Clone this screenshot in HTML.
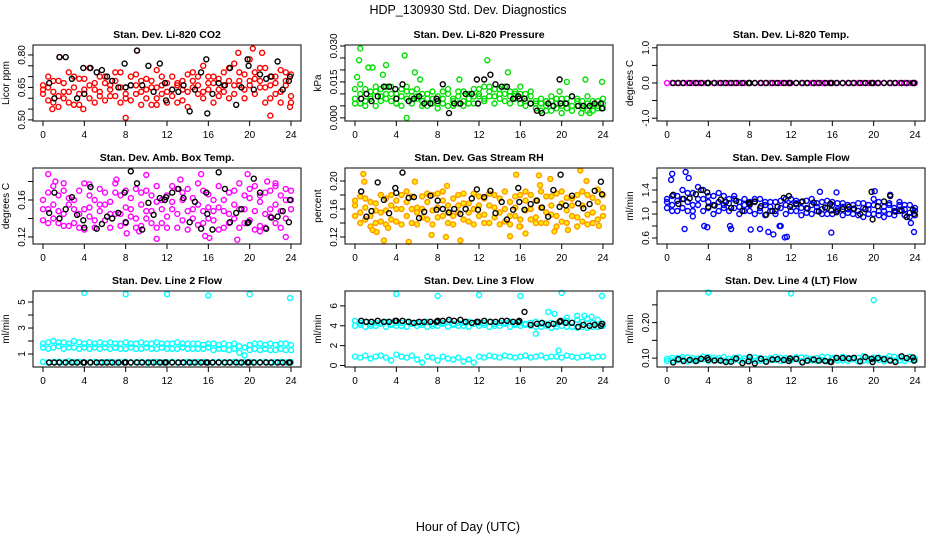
<!DOCTYPE html>
<html><head><meta charset="utf-8"><title>HDP_130930 Std. Dev. Diagnostics</title>
<style>
html,body{margin:0;padding:0;background:#fff;}
svg{display:block;font-family:"Liberation Sans",sans-serif;}
</style></head>
<body>
<svg id="chart" width="936" height="540" viewBox="0 0 936 540">
<rect x="0" y="0" width="936" height="540" fill="#fff"/>
<text x="468" y="14" text-anchor="middle" font-size="12.5">HDP_130930  Std. Dev. Diagnostics</text>
<text x="468" y="531" text-anchor="middle" font-size="12.5">Hour of Day (UTC)</text>
</svg>
<script>
const hours=[0,0.5,1,1.5,2,2.5,3,3.5,4,4.5,5,5.5,6,6.5,7,7.5,8,8.5,9,9.5,10,10.5,11,11.5,12,12.5,13,13.5,14,14.5,15,15.5,16,16.5,17,17.5,18,18.5,19,19.5,20,20.5,21,21.5,22,22.5,23,23.5,24];
const blackHours=[0.6,1.1,1.6,2.2,2.8,3.3,3.9,4.0,4.6,5.2,5.7,6.2,6.7,7.3,7.9,8.0,8.5,9.1,9.6,10.2,10.7,11.3,11.8,11.9,12.5,13.1,13.6,14.2,14.7,15.3,15.8,15.9,16.4,17.0,17.6,18.1,18.7,19.2,19.8,19.9,20.4,21.0,21.6,22.1,22.7,23.2,23.8,23.9];
const xTicks=[0,4,8,12,16,20,24];

// Panel 1: CO2
const co2A=[0.66,0.70,0.63,0.68,0.60,0.72,0.65,0.69,0.62,0.74,0.67,0.61,0.70,0.64,0.68,0.72,0.60,0.66,0.71,0.63,0.69,0.65,0.73,0.62,0.58,0.70,0.66,0.64,0.71,0.68,0.62,0.75,0.67,0.70,0.64,0.72,0.68,0.76,0.66,0.71,0.78,0.69,0.65,0.74,0.70,0.67,0.73,0.66,0.71];
const co2B=[0.62,0.65,0.58,0.61,0.67,0.63,0.57,0.62,0.69,0.60,0.64,0.70,0.59,0.66,0.61,0.58,0.65,0.70,0.62,0.57,0.64,0.68,0.60,0.66,0.63,0.61,0.67,0.59,0.63,0.65,0.70,0.60,0.64,0.58,0.69,0.63,0.60,0.66,0.72,0.64,0.68,0.62,0.74,0.65,0.60,0.70,0.63,0.68,0.61];
const co2C=[0.64,0.59,0.68,0.56,0.63,0.58,0.70,0.57,0.64,0.66,0.58,0.63,0.67,0.61,0.72,0.65,0.62,0.59,0.66,0.68,0.60,0.57,0.65,0.70,0.67,0.64,0.58,0.68,0.56,0.72,0.66,0.63,0.70,0.67,0.61,0.66,0.74,0.62,0.68,0.60,0.66,0.72,0.68,0.58,0.66,0.62,0.58,0.72,0.58];
const co2OutX=[1.6,9.1,8.0,20.3,22.0,11.0,18.9,3.9,0.9,21.2,23.9];
const co2OutY=[0.79,0.82,0.51,0.83,0.52,0.57,0.81,0.55,0.55,0.81,0.56];
const co2Black=[0.67,0.60,0.79,0.79,0.69,0.60,0.74,0.62,0.74,0.72,0.73,0.70,0.68,0.65,0.76,0.65,0.66,0.82,0.66,0.75,0.63,0.76,0.67,0.59,0.64,0.63,0.66,0.54,0.64,0.72,0.78,0.53,0.62,0.67,0.66,0.74,0.57,0.65,0.78,0.75,0.64,0.71,0.69,0.70,0.77,0.64,0.68,0.70];
const co2Ticks=[0.50,0.55,0.60,0.65,0.70,0.75,0.80];
const co2Labels=["0.50","0.65","0.80"];

// Panel 2: Pressure
const presA=[0.006,0.010,0.012,0.008,0.011,0.009,0.013,0.007,0.010,0.012,0.008,0.011,0.009,0.007,0.010,0.006,0.009,0.008,0.010,0.007,0.009,0.011,0.008,0.012,0.010,0.013,0.011,0.009,0.012,0.010,0.011,0.008,0.010,0.007,0.009,0.004,0.006,0.005,0.007,0.004,0.008,0.006,0.005,0.007,0.004,0.006,0.005,0.007,0.004];
const presB=[0.008,0.006,0.007,0.011,0.005,0.012,0.008,0.010,0.006,0.009,0.011,0.006,0.008,0.010,0.005,0.008,0.006,0.011,0.005,0.008,0.006,0.007,0.010,0.006,0.009,0.008,0.009,0.012,0.008,0.007,0.009,0.011,0.006,0.010,0.006,0.007,0.003,0.007,0.003,0.006,0.005,0.008,0.003,0.005,0.007,0.003,0.007,0.004,0.006];
const presC=[0.012,0.014,0.005,0.009,0.013,0.007,0.010,0.013,0.008,0.005,0.013,0.009,0.012,0.005,0.008,0.011,0.004,0.006,0.012,0.005,0.011,0.005,0.006,0.009,0.012,0.007,0.013,0.006,0.010,0.013,0.006,0.010,0.013,0.005,0.011,0.006,0.008,0.003,0.009,0.008,0.002,0.004,0.009,0.008,0.005,0.009,0.003,0.005,0.008];
const presOutX=[0.5,0.4,1.3,1.7,3.0,2.7,4.8,5.0,5.8,10.1,12.8,14.8,19.8,20.5,22.3,23.9,0.2,6.3,21.9,22.7];
const presOutY=[0.029,0.024,0.021,0.021,0.022,0.018,0.026,0.000,0.019,0.016,0.024,0.019,0.011,0.015,0.016,0.015,0.017,0.016,0.002,0.002];
const presBlack=[0.008,0.010,0.007,0.009,0.013,0.013,0.012,0.008,0.014,0.007,0.008,0.009,0.006,0.006,0.008,0.007,0.014,0.002,0.006,0.006,0.010,0.010,0.016,0.006,0.016,0.018,0.014,0.013,0.013,0.008,0.009,0.008,0.008,0.006,0.003,0.002,0.006,0.005,0.016,0.006,0.006,0.009,0.005,0.005,0.005,0.006,0.006,0.004];
const presTicks=[0,0.005,0.010,0.015,0.020,0.025,0.030];
const presLabels=["0.000","0.015","0.030"];

// Panel 3: Li-820 Temp
const tempA=[0,0,0,0,0,0,0,0,0,0,0,0,0,0,0,0,0,0,0,0,0,0,0,0,0,0,0,0,0,0,0,0,0,0,0,0,0,0,0,0,0,0,0,0,0,0,0,0,0];
const tempBlack=[0,0,0,0,0,0,0,0,0,0,0,0,0,0,0,0,0,0,0,0,0,0,0,0,0,0,0,0,0,0,0,0,0,0,0,0,0,0,0,0,0,0,0,0,0,0,0,0];
const tempTicks=[-1,-0.5,0,0.5,1];
const tempLabels=["-1.0","0.0","1.0"];

// Panel 4: Amb box temp
const ambA=[0.160,0.150,0.140,0.165,0.145,0.155,0.135,0.170,0.150,0.142,0.160,0.148,0.138,0.158,0.168,0.145,0.152,0.162,0.140,0.155,0.170,0.148,0.158,0.135,0.165,0.150,0.145,0.160,0.172,0.140,0.155,0.148,0.166,0.138,0.152,0.160,0.145,0.170,0.150,0.135,0.162,0.148,0.158,0.168,0.142,0.155,0.165,0.140,0.150];
const ambB=[0.138,0.168,0.155,0.135,0.170,0.132,0.160,0.145,0.128,0.165,0.138,0.172,0.155,0.130,0.145,0.165,0.135,0.142,0.172,0.132,0.140,0.165,0.130,0.160,0.142,0.175,0.130,0.168,0.148,0.162,0.133,0.170,0.140,0.160,0.175,0.130,0.168,0.140,0.130,0.165,0.138,0.175,0.132,0.145,0.170,0.135,0.148,0.172,0.160];
const ambC=[0.150,0.135,0.175,0.148,0.132,0.162,0.150,0.130,0.178,0.152,0.130,0.155,0.168,0.145,0.178,0.132,0.170,0.150,0.130,0.168,0.148,0.135,0.175,0.150,0.130,0.158,0.172,0.138,0.128,0.150,0.178,0.135,0.152,0.148,0.128,0.148,0.135,0.155,0.178,0.150,0.172,0.128,0.165,0.130,0.150,0.178,0.130,0.160,0.170];
const ambOutX=[0.5,1.2,4.5,7.1,8.1,9.3,10.0,11.0,13.3,15.3,16.1,18.8,19.8,21.7,23.5,2.0,15.7,21.0,22.5];
const ambOutY=[0.188,0.180,0.177,0.182,0.124,0.126,0.187,0.118,0.182,0.188,0.119,0.117,0.188,0.180,0.120,0.178,0.121,0.126,0.175];
const ambBlack=[0.146,0.168,0.140,0.150,0.163,0.144,0.138,0.130,0.174,0.129,0.134,0.142,0.140,0.146,0.168,0.136,0.191,0.178,0.128,0.157,0.144,0.162,0.160,0.163,0.168,0.172,0.162,0.136,0.158,0.129,0.168,0.145,0.128,0.190,0.172,0.136,0.146,0.150,0.135,0.136,0.183,0.168,0.129,0.141,0.142,0.148,0.136,0.160];
const ambTicks=[0.12,0.14,0.16,0.18];
const ambLabels=["0.12","0.16"];

// Panel 5: Gas stream RH
const rhA=[0.165,0.155,0.175,0.150,0.168,0.180,0.158,0.145,0.172,0.160,0.150,0.178,0.162,0.148,0.170,0.158,0.182,0.150,0.165,0.175,0.155,0.145,0.168,0.160,0.178,0.152,0.165,0.148,0.175,0.160,0.170,0.150,0.180,0.158,0.145,0.172,0.162,0.155,0.178,0.150,0.168,0.158,0.175,0.148,0.165,0.180,0.155,0.170,0.162];
const rhB=[0.150,0.178,0.145,0.170,0.140,0.155,0.175,0.165,0.142,0.180,0.170,0.140,0.155,0.178,0.145,0.180,0.148,0.172,0.140,0.150,0.180,0.168,0.142,0.182,0.150,0.175,0.140,0.180,0.155,0.142,0.150,0.178,0.145,0.172,0.180,0.148,0.140,0.178,0.152,0.182,0.142,0.176,0.150,0.180,0.142,0.152,0.176,0.145,0.180];
const rhC=[0.172,0.140,0.162,0.135,0.158,0.142,0.138,0.180,0.160,0.138,0.185,0.160,0.138,0.160,0.182,0.138,0.162,0.185,0.155,0.138,0.165,0.182,0.155,0.138,0.165,0.140,0.182,0.162,0.138,0.185,0.138,0.162,0.135,0.185,0.160,0.140,0.185,0.140,0.165,0.135,0.185,0.140,0.165,0.135,0.185,0.138,0.140,0.188,0.150];
const rhOutX=[0.8,0.9,1.7,2.1,2.8,5.8,5.2,7.4,8.8,8.9,10.2,15.0,15.6,15.9,16.5,17.8,17.9,18.9,19.3,20.6,21.8,22.4,23.6,3.2];
const rhOutY=[0.210,0.199,0.130,0.127,0.115,0.199,0.113,0.123,0.120,0.193,0.115,0.121,0.209,0.135,0.125,0.208,0.194,0.203,0.128,0.130,0.215,0.200,0.136,0.133];
const rhBlack=[0.185,0.149,0.157,0.198,0.173,0.154,0.190,0.183,0.212,0.176,0.177,0.147,0.156,0.179,0.159,0.172,0.160,0.155,0.160,0.153,0.160,0.175,0.188,0.159,0.177,0.186,0.154,0.170,0.145,0.159,0.190,0.170,0.159,0.167,0.172,0.162,0.149,0.187,0.163,0.209,0.165,0.179,0.168,0.161,0.167,0.186,0.199,0.181];
const rhTicks=[0.12,0.14,0.16,0.18,0.20];
const rhLabels=["0.12","0.16","0.20"];

// Panel 6: Sample flow
const sfA=[1.25,1.15,1.30,1.10,1.20,1.35,1.15,1.25,1.10,1.30,1.20,1.15,1.25,1.10,1.20,1.15,1.05,1.20,1.10,1.15,1.05,1.20,1.10,1.25,1.15,1.05,1.20,1.10,1.15,1.05,1.20,1.10,1.15,1.05,1.12,1.02,1.15,1.05,1.10,1.00,1.15,1.05,1.12,1.00,1.10,1.05,1.15,1.02,1.10];
const sfB=[1.10,1.30,1.05,1.40,1.05,1.15,1.45,1.05,1.30,1.15,1.05,1.30,1.05,1.25,1.00,1.25,1.20,1.00,1.25,0.98,1.20,1.00,1.22,1.00,1.25,1.18,0.98,1.22,1.00,1.18,1.00,1.22,1.00,1.18,0.98,1.15,1.00,1.18,0.95,1.15,1.00,1.20,0.95,1.15,0.98,1.15,0.98,1.15,1.05];
const sfC=[1.20,1.05,1.22,1.25,1.35,1.05,1.25,1.40,1.20,1.00,1.35,1.10,1.18,1.30,1.12,1.05,1.15,1.25,1.05,1.20,1.12,1.05,0.80,1.15,1.05,1.22,1.10,1.02,1.25,1.12,1.08,1.00,1.20,1.08,1.18,1.08,1.08,0.98,1.18,1.08,1.25,0.98,1.05,1.18,1.05,1.20,1.08,0.95,0.98];
const sfOutX=[0.5,0.4,1.8,2.1,1.7,3.6,3.9,6.1,6.2,8.1,9.0,9.8,10.3,10.9,11.6,11.4,14.8,15.9,16.4,20.1,21.6,23.6,23.9,2.5];
const sfOutY=[1.67,1.57,1.70,1.60,0.75,0.80,0.78,0.80,0.75,0.74,0.75,0.70,0.66,0.80,0.62,0.61,1.37,0.69,1.36,1.38,1.32,0.85,0.70,0.96];
const sfBlack=[1.32,1.17,1.25,1.26,1.33,1.40,1.36,1.12,1.14,1.24,1.20,1.10,1.22,1.05,1.19,1.17,1.21,1.13,0.99,1.05,1.12,1.27,1.30,1.12,1.16,1.21,1.09,1.19,1.04,1.11,1.17,1.06,1.03,1.08,1.12,1.09,1.00,1.08,1.37,0.91,1.13,1.21,1.30,1.04,1.06,0.95,1.07,1.00];
const sfTicks=[0.6,0.8,1.0,1.2,1.4,1.6];
const sfLabels=["0.6","1.0","1.4"];

// Panel 7: Line 2 flow
const l2A=[1.8,1.9,2.0,1.9,1.9,1.8,2.0,1.9,1.8,1.9,1.8,1.9,1.8,1.9,1.8,1.8,1.9,1.8,1.8,1.9,1.8,1.8,1.9,1.8,1.8,1.8,1.9,1.8,1.8,1.8,1.8,1.7,1.8,1.8,1.7,1.8,1.7,1.8,1.6,1.5,1.7,1.8,1.8,1.7,1.8,1.7,1.8,1.8,1.7];
const l2B=[1.5,1.4,1.5,1.6,1.4,1.5,1.5,1.4,1.5,1.4,1.5,1.4,1.5,1.4,1.5,1.4,1.4,1.5,1.4,1.4,1.5,1.4,1.4,1.5,1.4,1.4,1.4,1.5,1.4,1.4,1.4,1.4,1.5,1.3,1.4,1.4,1.3,1.4,1.1,0.9,1.3,1.4,1.3,1.4,1.3,1.3,1.4,1.3,1.3];
const l2C=[0.4,0.35,0.38,0.4,0.36,0.45,0.38,0.4,0.35,0.38,0.4,0.36,0.38,0.4,0.35,0.38,0.4,0.36,0.38,0.4,0.35,0.38,0.4,0.36,0.38,0.4,0.35,0.38,0.4,0.36,0.38,0.4,0.35,0.38,0.4,0.36,0.38,0.4,0.35,0.38,0.4,0.36,0.38,0.4,0.35,0.38,0.4,0.36,0.38];
const l2OutX=[4.0,8.0,12.0,16.0,20.0,23.9];
const l2OutY=[5.7,5.6,5.6,5.5,5.6,5.3];
const l2Black=[0.35,0.35,0.35,0.35,0.35,0.35,0.35,0.35,0.35,0.35,0.35,0.35,0.35,0.35,0.35,0.35,0.35,0.35,0.35,0.35,0.35,0.35,0.35,0.35,0.35,0.35,0.35,0.35,0.35,0.35,0.35,0.35,0.35,0.35,0.35,0.35,0.35,0.35,0.35,0.35,0.35,0.35,0.35,0.35,0.35,0.35,0.35,0.35];
const l2Ticks=[1,2,3,4,5];
const l2Labels=["1","3","5"];

// Panel 8: Line 3 flow
const l3A=[4.5,4.1,4.4,4.0,4.3,4.2,4.4,4.1,4.3,4.0,4.4,4.2,4.3,4.1,4.4,4.0,4.3,4.2,4.4,4.1,4.3,4.0,4.4,4.2,4.3,4.1,4.4,4.0,4.3,4.2,4.4,4.1,4.3,4.2,4.0,4.4,3.9,4.2,3.8,4.2,4.0,4.5,3.9,4.6,3.9,4.7,3.9,4.6,4.0];
const l3B=[4.0,4.3,3.9,4.2,4.0,4.3,3.9,4.2,4.0,4.3,3.9,4.2,4.0,4.3,3.9,4.2,4.0,4.3,3.9,4.2,4.0,4.3,3.9,4.2,4.0,4.3,3.9,4.2,4.0,4.3,3.9,4.2,4.0,4.1,4.3,3.9,4.2,4.0,4.3,3.9,4.4,3.9,4.3,3.8,4.4,3.8,4.3,3.9,4.2];
const l3C=[0.9,0.8,1.0,0.7,0.9,1.0,0.8,0.5,1.1,0.9,0.8,1.0,0.6,0.3,0.9,0.8,0.5,0.9,0.7,0.6,0.8,0.4,0.6,0.3,0.9,0.8,1.0,0.9,0.8,1.0,0.9,0.8,0.9,1.0,0.8,0.9,1.0,0.8,0.9,0.9,0.8,1.0,0.9,0.8,0.9,1.0,0.8,0.9,0.9];
const l3OutX=[4.0,8.0,12.0,16.0,20.0,23.9,18.7,19.3,17.5,19.7,20.5,21.5,22.2,22.9];
const l3OutY=[7.2,7.0,7.1,7.0,7.3,7.0,5.4,5.2,3.2,1.5,4.8,5.0,5.0,4.9];
const l3Black=[4.5,4.4,4.4,4.5,4.4,4.4,4.5,4.5,4.5,4.4,4.3,4.4,4.4,4.4,4.4,4.5,4.5,4.6,4.5,4.6,4.4,4.3,4.4,4.4,4.5,4.4,4.4,4.5,4.5,4.4,4.4,4.5,5.4,4.1,4.2,4.3,4.1,4.2,4.4,4.5,4.3,4.3,3.9,4.1,4.0,4.1,4.0,4.2];
const l3Ticks=[0,2,4,6];
const l3Labels=["0","2","4","6"];

// Panel 9: Line 4 (LT) flow
const l4A=[0.098,0.093,0.100,0.096,0.102,0.094,0.099,0.097,0.103,0.095,0.100,0.093,0.098,0.101,0.094,0.099,0.096,0.102,0.093,0.098,0.100,0.095,0.101,0.094,0.099,0.097,0.102,0.093,0.098,0.100,0.095,0.103,0.096,0.099,0.094,0.101,0.097,0.100,0.093,0.098,0.102,0.095,0.099,0.096,0.104,0.094,0.100,0.097,0.098];
const l4B=[0.092,0.101,0.094,0.103,0.091,0.100,0.093,0.104,0.092,0.101,0.094,0.103,0.091,0.095,0.102,0.092,0.104,0.093,0.100,0.091,0.095,0.103,0.092,0.100,0.094,0.103,0.091,0.101,0.094,0.092,0.104,0.091,0.101,0.093,0.104,0.092,0.100,0.091,0.105,0.093,0.096,0.102,0.091,0.105,0.093,0.102,0.092,0.104,0.094];
const l4OutX=[4.0,12.0,20.0];
const l4OutY=[0.285,0.282,0.263];
const l4Black=[0.088,0.097,0.092,0.095,0.092,0.098,0.100,0.095,0.093,0.093,0.089,0.090,0.099,0.086,0.091,0.103,0.085,0.098,0.090,0.096,0.097,0.095,0.092,0.099,0.098,0.088,0.093,0.096,0.093,0.092,0.090,0.089,0.101,0.100,0.099,0.101,0.091,0.103,0.098,0.089,0.100,0.097,0.093,0.089,0.105,0.100,0.102,0.093];
const l4Ticks=[0.10,0.15,0.20,0.25];
const l4Labels=["0.10","0.20"];

const NS="http://www.w3.org/2000/svg";
const svg=document.getElementById('chart');
function mk(tag,attrs,parent){const e=document.createElementNS(NS,tag);for(const k in attrs)e.setAttribute(k,attrs[k]);(parent||svg).appendChild(e);return e;}

const BOX_W=268,BOX_H=76;
function xScale(left){return h=>left+10+h*(248/24);}
function yScaleFn(top,dmin,dmax){return v=>top+BOX_H-(v-dmin)/(dmax-dmin)*BOX_H;}

function drawPanel(p){
  const g=mk('g',{});
  
  
  const X=xScale(p.left),Y=yScaleFn(p.top,p.dmin,p.dmax);
  const t=mk('text',{x:p.left+BOX_W/2,y:p.top-7,'text-anchor':'middle','font-size':'10.5','font-weight':'bold'},g);
  t.textContent=p.title;
  
  
  const pts=mk('g',{'stroke-width':'1.4'},g);
  
  
  p.series.forEach(s=>{
    s.y.forEach((v,i)=>{
      const c=mk('circle',{cx:X(s.x[i]).toFixed(1),cy:Y(v).toFixed(1),r:'2.5',stroke:s.color,fill:s.fill||'none'},pts);
      
      
    });
  });
  const b=mk('rect',{x:p.left,y:p.top,width:BOX_W,height:BOX_H,fill:'none',stroke:'#000','stroke-width':'1'},g);
  
  
  const bot=p.top+BOX_H;
  xTicks.forEach(v=>{
    const l=mk('line',{x1:X(v),x2:X(v),y1:bot,y2:bot+5,stroke:'#000'},g);
    
    
    const tx=mk('text',{x:X(v),y:bot+17,'text-anchor':'middle','font-size':'10'},g);
    tx.textContent=String(v);
    
    
  });
  const ax=mk('line',{x1:X(0),x2:X(24),y1:bot,y2:bot,stroke:'#000'},g);
  
  
  p.ticks.forEach(v=>{
    const l=mk('line',{x1:p.left-5,x2:p.left,y1:Y(v),y2:Y(v),stroke:'#000'},g);
    
    
  });
  const ay=mk('line',{x1:p.left,x2:p.left,y1:Y(p.ticks[0]),y2:Y(p.ticks[p.ticks.length-1]),stroke:'#000'},g);
  
  
  p.labels.forEach(s=>{
    const yy=Y(parseFloat(s));
    const tx=mk('text',{x:p.left-8,y:yy,'text-anchor':'middle','font-size':'10',transform:`rotate(-90 ${p.left-8} ${yy})`},g);
    tx.textContent=s;
    
    
  });
  const yt=mk('text',{x:p.left-24,y:p.top+BOX_H/2,'text-anchor':'middle','font-size':'10',transform:`rotate(-90 ${p.left-24} ${p.top+BOX_H/2})`},g);
  yt.textContent=p.ylab;
  
  
}

const RED='#ff0000',GRN='#00e000',MAG='#ff00ff',ORG='#ff9900',BLU='#0000ff',CYN='#00ffff',BLK='#000';
const L=[33,345,657],T=[45,168,291];
drawPanel({name:'panel-co2',title:'Stan. Dev. Li-820 CO2',ylab:'Licor ppm',left:L[0],top:T[0],dmin:0.495,dmax:0.846,ticks:co2Ticks,labels:co2Labels,
  series:[{x:hours,y:co2A,color:RED,label:'co2-point'},{x:hours,y:co2B,color:RED,label:'co2-point'},{x:hours,y:co2C,color:RED,label:'co2-point'},{x:co2OutX,y:co2OutY,color:RED,label:'co2-point'},{x:blackHours,y:co2Black,color:BLK,label:'co2-hourly-point'}]});
drawPanel({name:'panel-pressure',title:'Stan. Dev. Li-820 Pressure',ylab:'kPa',left:L[1],top:T[0],dmin:-0.0013,dmax:0.0304,ticks:presTicks,labels:presLabels,
  series:[{x:hours,y:presA,color:GRN,label:'pressure-point'},{x:hours,y:presB,color:GRN,label:'pressure-point'},{x:hours,y:presC,color:GRN,label:'pressure-point'},{x:presOutX,y:presOutY,color:GRN,label:'pressure-point'},{x:blackHours,y:presBlack,color:BLK,label:'pressure-hourly-point'}]});
drawPanel({name:'panel-li820-temp',title:'Stan. Dev. Li-820 Temp.',ylab:'degrees C',left:L[2],top:T[0],dmin:-1.08,dmax:1.08,ticks:tempTicks,labels:tempLabels,
  series:[{x:hours,y:tempA,color:MAG,label:'temp-point'},{x:blackHours,y:tempBlack,color:BLK,label:'temp-hourly-point'}]});
drawPanel({name:'panel-amb-box-temp',title:'Stan. Dev. Amb. Box Temp.',ylab:'degrees C',left:L[0],top:T[1],dmin:0.1124,dmax:0.1946,ticks:ambTicks,labels:ambLabels,
  series:[{x:hours,y:ambA,color:MAG,label:'amb-point'},{x:hours,y:ambB,color:MAG,label:'amb-point'},{x:hours,y:ambC,color:MAG,label:'amb-point'},{x:ambOutX,y:ambOutY,color:MAG,label:'amb-point'},{x:blackHours,y:ambBlack,color:BLK,label:'amb-hourly-point'}]});
drawPanel({name:'panel-gas-stream-rh',title:'Stan. Dev. Gas Stream RH',ylab:'percent',left:L[1],top:T[1],dmin:0.110,dmax:0.2186,ticks:rhTicks,labels:rhLabels,
  series:[{x:hours,y:rhA,color:ORG,fill:'#ffee00',label:'rh-point'},{x:hours,y:rhB,color:ORG,fill:'#ffee00',label:'rh-point'},{x:hours,y:rhC,color:ORG,fill:'#ffee00',label:'rh-point'},{x:rhOutX,y:rhOutY,color:ORG,fill:'#ffee00',label:'rh-point'},{x:blackHours,y:rhBlack,color:BLK,label:'rh-hourly-point'}]});
drawPanel({name:'panel-sample-flow',title:'Stan. Dev. Sample Flow',ylab:'ml/min',left:L[2],top:T[1],dmin:0.5,dmax:1.767,ticks:sfTicks,labels:sfLabels,
  series:[{x:hours,y:sfA,color:BLU,label:'flow-point'},{x:hours,y:sfB,color:BLU,label:'flow-point'},{x:hours,y:sfC,color:BLU,label:'flow-point'},{x:sfOutX,y:sfOutY,color:BLU,label:'flow-point'},{x:blackHours,y:sfBlack,color:BLK,label:'flow-hourly-point'}]});
drawPanel({name:'panel-line2-flow',title:'Stan. Dev. Line 2 Flow',ylab:'ml/min',left:L[0],top:T[2],dmin:0.0,dmax:5.85,ticks:l2Ticks,labels:l2Labels,
  series:[{x:hours,y:l2A,color:CYN,label:'line2-point'},{x:hours,y:l2B,color:CYN,label:'line2-point'},{x:hours,y:l2C,color:CYN,label:'line2-point'},{x:l2OutX,y:l2OutY,color:CYN,label:'line2-point'},{x:blackHours,y:l2Black,color:BLK,label:'line2-hourly-point'}]});
drawPanel({name:'panel-line3-flow',title:'Stan. Dev. Line 3 Flow',ylab:'ml/min',left:L[1],top:T[2],dmin:-0.15,dmax:7.5,ticks:l3Ticks,labels:l3Labels,
  series:[{x:hours,y:l3A,color:CYN,label:'line3-point'},{x:hours,y:l3B,color:CYN,label:'line3-point'},{x:hours,y:l3C,color:CYN,label:'line3-point'},{x:l3OutX,y:l3OutY,color:CYN,label:'line3-point'},{x:blackHours,y:l3Black,color:BLK,label:'line3-hourly-point'}]});
drawPanel({name:'panel-line4-flow',title:'Stan. Dev. Line 4 (LT) Flow',ylab:'ml/min',left:L[2],top:T[2],dmin:0.075,dmax:0.289,ticks:l4Ticks,labels:l4Labels,
  series:[{x:hours,y:l4A,color:CYN,label:'line4-point'},{x:hours,y:l4B,color:CYN,label:'line4-point'},{x:l4OutX,y:l4OutY,color:CYN,label:'line4-point'},{x:blackHours,y:l4Black,color:BLK,label:'line4-hourly-point'}]});
</script>
</body></html>
